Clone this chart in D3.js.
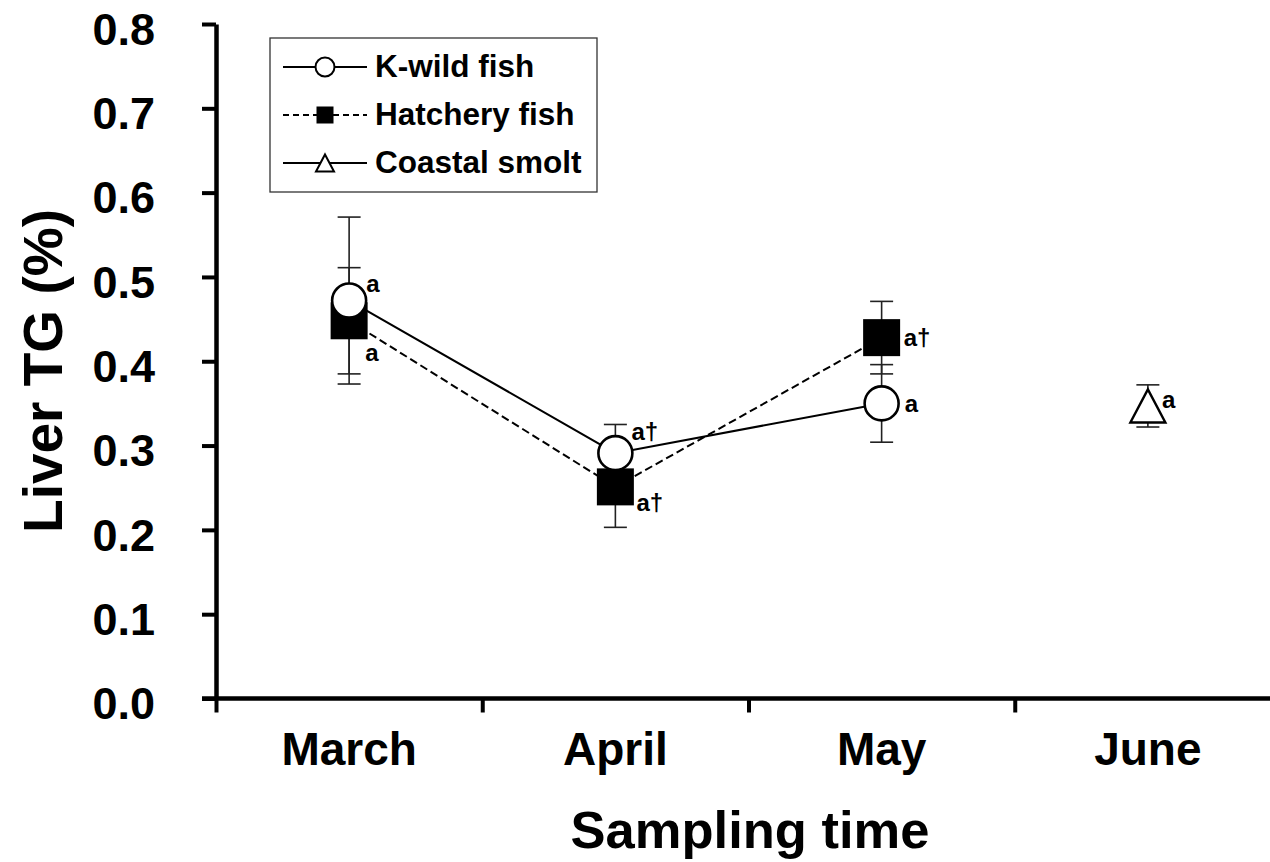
<!DOCTYPE html>
<html>
<head>
<meta charset="utf-8">
<script src="https://cdn.jsdelivr.net/npm/d3@7"></script>
<style>
  html, body { margin: 0; padding: 0; background: #fff; }
  svg { display: block; }
  text { font-family: Arial, "Liberation Sans", sans-serif; font-weight: bold; fill: #000; }
</style>
</head>
<body>
<svg id="chart" width="1270" height="862"></svg>
<script>
// Sampling months and y-axis ticks
const months = ["March", "April", "May", "June"];
const yTicks = [0.0, 0.1, 0.2, 0.3, 0.4, 0.5, 0.6, 0.7, 0.8];

// Liver TG (%) means and standard errors per group
const wildMonths = ["March", "April", "May"];
const wildMean = [0.472, 0.291, 0.350];
const wildSE = [0.099, 0.034, 0.046];
const wildLetters = ["a", "a†", "a"];

const hatchMonths = ["March", "April", "May"];
const hatchMean = [0.448, 0.251, 0.428];
const hatchSE = [0.063, 0.048, 0.043];
const hatchLetters = ["a", "a†", "a†"];

const coastMonths = ["June"];
const coastMean = [0.347];
const coastSE = [0.025];
const coastLetters = ["a"];

// Where each significance letter sits relative to its marker
const wildLetterOffset = [[17, -9], [16, -13], [23, 9]];
const hatchLetterOffset = [[16, 40], [21, 24], [22, 8]];
const coastLetterOffset = [[14, 2]];

const svg = d3.select("#chart");

const x = d3.scaleBand().domain(months).range([216, 1281]);
const xEdge = d3.scaleLinear().domain([0, months.length]).range([216, 1281]);
const y = d3.scaleLinear().domain([0, 0.8]).range([698.5, 24]);
const cx = m => x(m) + x.bandwidth() / 2;

// Y axis
const yAxis = svg.append("g")
  .attr("transform", "translate(216,0)")
  .call(d3.axisLeft(y).tickValues(yTicks).tickFormat(d3.format(".1f")).tickSize(14).tickSizeOuter(0).tickPadding(47));
yAxis.select(".domain").attr("stroke", "#000").attr("stroke-width", 4.5);
yAxis.selectAll(".tick line").attr("stroke", "#000").attr("stroke-width", 4);
yAxis.selectAll(".tick text")
  .attr("font-size", 45).attr("font-family", "Arial, 'Liberation Sans', sans-serif")
  .attr("font-weight", "bold").attr("fill", "#000").attr("dy", "0.45em");

// X axis: ticks at month boundaries, labels at month centres
const xTicksG = svg.append("g")
  .attr("transform", "translate(0,698.5)")
  .call(d3.axisBottom(xEdge).tickValues(d3.range(months.length + 1)).tickFormat("").tickSize(14).tickSizeOuter(0));
xTicksG.select(".domain").remove();
xTicksG.selectAll(".tick line").attr("stroke", "#000").attr("stroke-width", 4);
svg.append("line")
  .attr("x1", 202).attr("x2", 1281).attr("y1", 698.5).attr("y2", 698.5)
  .attr("stroke", "#000").attr("stroke-width", 4.5);

const xLabels = svg.append("g")
  .attr("transform", "translate(0,698.5)")
  .call(d3.axisBottom(x).tickSize(0).tickPadding(0));
xLabels.select(".domain").remove();
xLabels.selectAll(".tick text")
  .attr("font-size", 46).attr("font-family", "Arial, 'Liberation Sans', sans-serif")
  .attr("font-weight", "bold").attr("fill", "#000")
  .attr("y", 66.5).attr("dy", 0);

// Axis titles
svg.append("text")
  .attr("x", 750).attr("y", 848)
  .attr("text-anchor", "middle").attr("font-size", 52.5)
  .text("Sampling time");
svg.append("text")
  .attr("transform", "translate(62,371) rotate(-90)")
  .attr("text-anchor", "middle").attr("font-size", 55)
  .text("Liver TG (%)");

// Connecting lines
const lineGen = d3.line().x(d => cx(d[0])).y(d => y(d[1]));
svg.append("path")
  .datum(wildMonths.map((m, i) => [m, wildMean[i]]))
  .attr("d", lineGen).attr("fill", "none").attr("stroke", "#000").attr("stroke-width", 2);
svg.append("path")
  .datum(hatchMonths.map((m, i) => [m, hatchMean[i]]))
  .attr("d", lineGen).attr("fill", "none").attr("stroke", "#000").attr("stroke-width", 2)
  .attr("stroke-dasharray", "8,4");

// Error bars
function errorBars(monthsArr, means, ses) {
  const g = svg.append("g").attr("stroke", "#222").attr("stroke-width", 1.6);
  monthsArr.forEach((m, i) => {
    const px = cx(m), hi = y(means[i] + ses[i]), lo = y(means[i] - ses[i]);
    g.append("line").attr("x1", px).attr("x2", px).attr("y1", hi).attr("y2", lo);
    g.append("line").attr("x1", px - 11.5).attr("x2", px + 11.5).attr("y1", hi).attr("y2", hi);
    g.append("line").attr("x1", px - 11.5).attr("x2", px + 11.5).attr("y1", lo).attr("y2", lo);
  });
}
errorBars(hatchMonths, hatchMean, hatchSE);
errorBars(wildMonths, wildMean, wildSE);
errorBars(coastMonths, coastMean, coastSE);

// Marker shapes
const triPath = s => `M0,${-s * 0.5}L${s * 0.53},${s * 0.5}L${-s * 0.53},${s * 0.5}Z`;

// Hatchery squares
svg.append("g").selectAll("rect")
  .data(hatchMonths.map((m, i) => [m, hatchMean[i]]))
  .join("rect")
  .attr("x", d => cx(d[0]) - 18.5).attr("y", d => y(d[1]) - 18.5)
  .attr("width", 37).attr("height", 37).attr("fill", "#000");

// K-wild circles
svg.append("g").selectAll("circle")
  .data(wildMonths.map((m, i) => [m, wildMean[i]]))
  .join("circle")
  .attr("cx", d => cx(d[0])).attr("cy", d => y(d[1])).attr("r", 17)
  .attr("fill", "#fff").attr("stroke", "#000").attr("stroke-width", 2.6);

// Coastal smolt triangles
svg.append("g").selectAll("path")
  .data(coastMonths.map((m, i) => [m, coastMean[i]]))
  .join("path")
  .attr("transform", d => `translate(${cx(d[0])},${y(d[1])})`)
  .attr("d", triPath(33))
  .attr("fill", "#fff").attr("stroke", "#000").attr("stroke-width", 2.4).attr("stroke-linejoin", "miter");

// Significance letters
function letters(monthsArr, means, labels, offsets) {
  svg.append("g").selectAll("text")
    .data(monthsArr.map((m, i) => ({ m, v: means[i], t: labels[i], o: offsets[i] })))
    .join("text")
    .attr("x", d => cx(d.m) + d.o[0]).attr("y", d => y(d.v) + d.o[1])
    .attr("font-size", 24).text(d => d.t);
}
letters(wildMonths, wildMean, wildLetters, wildLetterOffset);
letters(hatchMonths, hatchMean, hatchLetters, hatchLetterOffset);
letters(coastMonths, coastMean, coastLetters, coastLetterOffset);

// Legend
const legend = svg.append("g");
legend.append("rect")
  .attr("x", 270).attr("y", 38).attr("width", 327).attr("height", 154)
  .attr("fill", "#fff").attr("stroke", "#333").attr("stroke-width", 1.3);
const legendNames = ["K-wild fish", "Hatchery fish", "Coastal smolt"];
const legendRows = [67, 115, 163];
legendNames.forEach((name, i) => {
  const ly = legendRows[i];
  legend.append("line")
    .attr("x1", 283).attr("x2", 367).attr("y1", ly).attr("y2", ly)
    .attr("stroke", "#000").attr("stroke-width", 2)
    .attr("stroke-dasharray", i === 1 ? "6,4" : null);
  if (i === 0) {
    legend.append("circle").attr("cx", 325).attr("cy", ly).attr("r", 9.5)
      .attr("fill", "#fff").attr("stroke", "#000").attr("stroke-width", 2);
  } else if (i === 1) {
    legend.append("rect").attr("x", 316.5).attr("y", ly - 8.5).attr("width", 17).attr("height", 17).attr("fill", "#000");
  } else {
    legend.append("path").attr("transform", `translate(325,${ly})`).attr("d", triPath(17))
      .attr("fill", "#fff").attr("stroke", "#000").attr("stroke-width", 2);
  }
  legend.append("text")
    .attr("x", 375).attr("y", ly + 10)
    .attr("font-size", 31.5).text(name);
});
</script>
</body>
</html>
